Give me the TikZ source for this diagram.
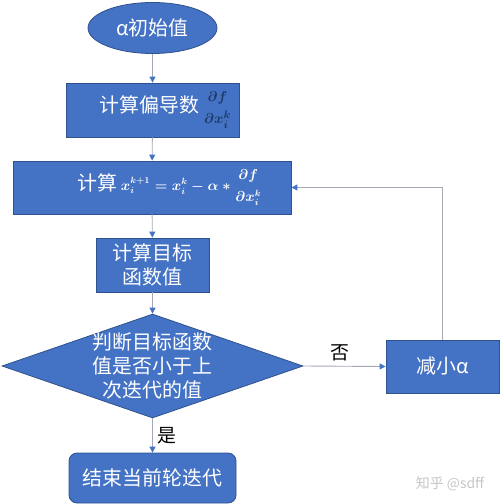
\documentclass[tikz,border=0pt]{standalone}
\usepackage{amsmath}
\usepackage{fontspec}
\setmainfont{Noto Sans CJK SC}
\usetikzlibrary{shapes.geometric,arrows.meta}
\definecolor{boxblue}{HTML}{4472C4}
\definecolor{boxedge}{HTML}{2F528F}
\definecolor{linegray}{HTML}{A5A9B4}
\definecolor{navy}{HTML}{1F3864}
\newcommand{\pfrac}[2]{\genfrac{}{}{0pt}{0}{#1}{#2}}
\begin{document}
\begin{tikzpicture}[x=1bp,y=-1bp,
  blk/.style={draw=boxedge,fill=boxblue,line width=0.8bp,inner sep=0pt,text=white},
  lbl/.style={text=white,font=\fontsize{20}{24}\selectfont,align=center},
  conn/.style={draw=linegray,line width=0.9bp,-{Triangle[length=6bp,width=6bp,color=boxblue]}},
  yn/.style={font=\fontsize{19}{22}\selectfont,text=black}]
\useasboundingbox (0,0) rectangle (500,504);
\node[blk,ellipse,minimum width=129bp,minimum height=51bp] (ell) at (152.5,28) {};
\node[lbl] at (ell.center) {α初始值};
\node[blk,rectangle,minimum width=173bp,minimum height=54bp] (b1) at (152.5,110) {};
\node[lbl,anchor=center] at (166,110) {计算偏导数\,{\color{navy}\fontsize{15}{18}\selectfont\boldmath$\displaystyle\pfrac{\partial f}{\partial x_i^k}$}};
\node[blk,rectangle,minimum width=278bp,minimum height=53bp] (b2) at (152,187.5) {};
\node[lbl,anchor=center] at (170,187.5) {计算\,{\fontsize{13.5}{16}\selectfont\boldmath$x_i^{k+1}=x_i^k-\alpha*\displaystyle\pfrac{\partial f}{\partial x_i^k}$}};
\node[blk,rectangle,minimum width=113bp,minimum height=54bp] (b3) at (152.5,265) {};
\node[lbl] at (b3.center) {计算目标\\函数值};
\node[blk,diamond,minimum width=301bp,minimum height=104bp] (dia) at (152.5,366) {};
\node[lbl] at (dia.center) {判断目标函数\\值是否小于上\\次迭代的值};
\node[blk,rectangle,minimum width=113bp,minimum height=53bp] (dec) at (442.5,366.5) {};
\node[lbl] at (dec.center) {减小α};
\node[blk,rectangle,rounded corners=8bp,minimum width=167bp,minimum height=50bp] (fin) at (152.5,478) {};
\node[lbl] at (fin.center) {结束当前轮迭代};
\draw[conn] (ell) -- (b1);
\draw[conn] (b1) -- (b2);
\draw[conn] (b2) -- (b3);
\draw[conn] (b3) -- (dia);
\draw[conn] (dia) -- node[yn,anchor=west,pos=0.5,xshift=1bp] (yes) {是} (fin);
\draw[conn] (dia.east) -- node[yn,anchor=south,pos=0.45,yshift=1bp] (no) {否} (dec.west);
\draw[conn] (dec.north) |- (b2.east);
\node[text=gray!45,font=\fontsize{14}{16}\selectfont] (wm) at (450,484) {知乎 @sdff};
\end{tikzpicture}
\end{document}
